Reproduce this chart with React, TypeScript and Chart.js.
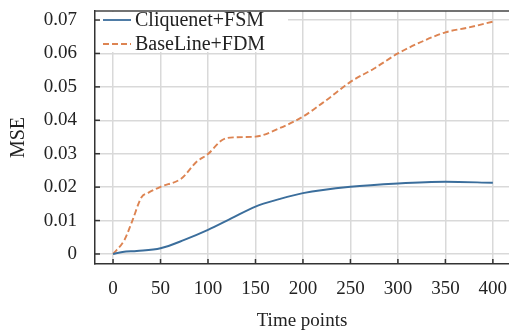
import React, { useEffect, useRef } from 'react';
import { Chart, registerables } from 'chart.js';

Chart.register(...registerables);

// ---- data ----
const seriesLabels = ['Cliquenet+FSM', 'BaseLine+FDM'];
const timeCliq = [0, 10, 25, 50, 75, 100, 125, 150, 175, 200, 250, 300, 350, 400];
const mseCliq = [0, 0.0006, 0.0009, 0.0017, 0.0042, 0.0072, 0.0107, 0.0142, 0.0164, 0.0182, 0.0201, 0.0211, 0.0216, 0.0213];
const timeBase = [0, 12, 20, 30, 37, 50, 72, 88, 100, 115, 127, 150, 175, 200, 225, 250, 275, 300, 325, 350, 375, 400];
const mseBase = [0, 0.0042, 0.0097, 0.017, 0.0183, 0.0201, 0.0226, 0.0276, 0.0299, 0.0341, 0.0349, 0.0351, 0.0376, 0.0411, 0.0461, 0.0515, 0.0555, 0.06, 0.0635, 0.0663, 0.0678, 0.0695];
const xTicks = [0, 50, 100, 150, 200, 250, 300, 350, 400];
const yTicks = [0, 0.01, 0.02, 0.03, 0.04, 0.05, 0.06, 0.07];
const xTitle = 'Time points';
const yTitle = 'MSE';

const FONT = "'Liberation Serif', 'Times New Roman', serif";
const TEXT = '#222222';
const SPINE = '#333333';
const BLUE = '#3b6e9c';
const ORANGE = '#dd8452';

const decorPlugin = {
  id: 'decor',
  afterDatasetsDraw(chart: any) {
    const { ctx, chartArea, scales } = chart;
    const xs = scales.x;
    const ys = scales.y;
    ctx.save();
    // legend box
    ctx.fillStyle = '#ffffff';
    ctx.fillRect(chartArea.left + 1, chartArea.top + 1, 192, 40);
    const rows = [
      { label: chart.data.datasets[0].label, color: BLUE, dash: [] as number[], y: chartArea.top + 9 },
      { label: chart.data.datasets[1].label, color: ORANGE, dash: [6, 3], y: chartArea.top + 33 },
    ];
    ctx.font = `20px ${FONT}`;
    ctx.textBaseline = 'middle';
    ctx.textAlign = 'left';
    for (const r of rows) {
      ctx.beginPath();
      ctx.setLineDash(r.dash);
      ctx.strokeStyle = r.color;
      ctx.lineWidth = 1.8;
      ctx.moveTo(chartArea.left + 8, r.y);
      ctx.lineTo(chartArea.left + 36, r.y);
      ctx.stroke();
      ctx.setLineDash([]);
      ctx.fillStyle = TEXT;
      ctx.fillText(r.label, chartArea.left + 40, r.y + 1);
    }
    // top spine
    ctx.beginPath();
    ctx.strokeStyle = '#444444';
    ctx.lineWidth = 1.5;
    ctx.moveTo(chartArea.left, chartArea.top);
    ctx.lineTo(chartArea.right, chartArea.top);
    ctx.stroke();
    // inward ticks
    ctx.strokeStyle = SPINE;
    ctx.lineWidth = 1.5;
    for (const v of xTicks) {
      const px = xs.getPixelForValue(v);
      ctx.beginPath();
      ctx.moveTo(px, chartArea.bottom);
      ctx.lineTo(px, chartArea.bottom - 5);
      ctx.stroke();
    }
    for (const v of yTicks) {
      const py = ys.getPixelForValue(v);
      ctx.beginPath();
      ctx.moveTo(chartArea.left, py);
      ctx.lineTo(chartArea.left + 5, py);
      ctx.stroke();
    }
    ctx.restore();
  },
};

export default function App() {
  const ref = useRef<HTMLCanvasElement | null>(null);
  useEffect(() => {
    document.body.style.margin = '0';
    const canvas = ref.current!;
    const chart = new Chart(canvas, {
      type: 'line',
      data: {
        datasets: [
          {
            label: seriesLabels[0],
            data: timeCliq.map((t, i) => ({ x: t, y: mseCliq[i] })),
            borderColor: BLUE,
            borderWidth: 1.9,
            pointRadius: 0,
            fill: false,
            cubicInterpolationMode: 'monotone',
          },
          {
            label: seriesLabels[1],
            data: timeBase.map((t, i) => ({ x: t, y: mseBase[i] })),
            borderColor: ORANGE,
            borderWidth: 1.9,
            borderDash: [6, 3],
            pointRadius: 0,
            fill: false,
            cubicInterpolationMode: 'monotone',
          },
        ],
      },
      options: {
        responsive: false,
        animation: false,
        events: [],
        layout: { padding: { top: 11, left: 0, right: 0, bottom: 0 }, autoPadding: false },
        plugins: { legend: { display: false }, tooltip: { enabled: false } },
        scales: {
          x: {
            type: 'linear',
            min: -19,
            max: 417,
            afterBuildTicks: (s: any) => { s.ticks = xTicks.map((v) => ({ value: v })); },
            afterFit: (s: any) => { s.height = 68; s.paddingLeft = 0; s.paddingRight = 0; s.paddingTop = 0; s.paddingBottom = 0; },
            grid: { color: '#d9d9d9', lineWidth: 1.5, drawTicks: false },
            border: { display: true, color: SPINE, width: 1.5 },
            ticks: {
              padding: 14,
              color: TEXT,
              font: { family: FONT, size: 19 },
              maxRotation: 0,
              callback: (v: any) => String(v),
            },
            title: {
              display: true,
              text: xTitle,
              color: TEXT,
              font: { family: FONT, size: 19 },
              padding: { top: 0, bottom: 0 },
            },
          },
          y: {
            type: 'linear',
            min: -0.003,
            max: 0.0727,
            afterBuildTicks: (s: any) => { s.ticks = yTicks.map((v) => ({ value: v })); },
            afterFit: (s: any) => { s.width = 95; s.paddingLeft = 0; s.paddingRight = 0; s.paddingTop = 0; s.paddingBottom = 0; },
            grid: { color: '#d9d9d9', lineWidth: 1.5, drawTicks: false },
            border: { display: true, color: SPINE, width: 1.5 },
            ticks: {
              padding: 18,
              color: TEXT,
              font: { family: FONT, size: 19 },
              callback: (v: any) => (Number(v) === 0 ? '0' : Number(v).toFixed(2)),
            },
            title: {
              display: true,
              text: yTitle,
              color: TEXT,
              font: { family: FONT, size: 20 },
              padding: { top: 7, bottom: 7 },
            },
          },
        },
      },
      plugins: [decorPlugin],
    } as any);
    return () => chart.destroy();
  }, []);
  return (
    <div style={{ position: 'absolute', left: 0, top: 0, width: 509, height: 332 }}>
      <canvas ref={ref} width={509} height={332} style={{ display: 'block' }} />
    </div>
  );
}
